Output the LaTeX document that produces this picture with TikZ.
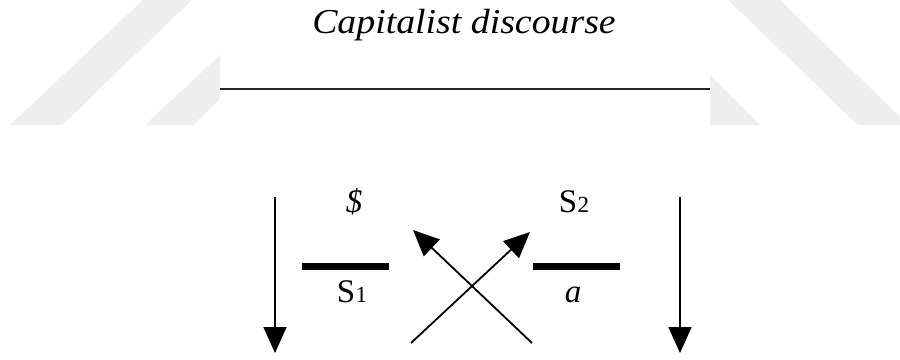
\documentclass[tikz,border=0pt]{standalone}
\usepackage{fontspec}
\setmainfont{Liberation Serif}
\usepackage{graphicx}
\usepackage{tikz}
\usetikzlibrary{arrows.meta,positioning}
\definecolor{markgray}{HTML}{EEEEEE}
\tikzset{
  term/.style={font=\fontsize{33}{37}\selectfont, inner sep=0pt, anchor=base},
  bar/.style={line width=7pt},
  flow/.style={line width=1.8pt, -{Triangle[length=26pt,width=23pt]}},
}
\newcommand{\idx}[1]{\kern0.5pt{\fontsize{23}{24}\selectfont #1}}
\newcommand{\wide}[1]{\scalebox{1.08}[1]{#1}}

\begin{document}
\begin{tikzpicture}[x=1pt,y=-1pt]
    \useasboundingbox (0,0) rectangle (900,359);

    % Faint strips behind the title
    \fill[markgray] (10,125) -- (62,125) -- (192,0) -- (143,0) -- cycle;
    \fill[markgray] (145,125) -- (193,125) -- (220,99) -- (220,55) -- cycle;
    \fill[markgray] (710,75) -- (760,125) -- (710,125) -- cycle;
    \fill[markgray] (728,0) -- (780,0) -- (900,117) -- (900,125) -- (858,125) -- cycle;

    % Title and rule
    \node[term, font=\fontsize{35}{40}\selectfont\itshape] (title) at (464,33) {\wide{Capitalist discourse}};
    \coordinate (ruleL) at (220,89);
    \coordinate (ruleR) at (710,89);
    \draw[line width=2.6pt, black!85] (ruleL) -- (ruleR);

    % The four places
    \node[term] (subj) at (354,212) {\textit{\$}};
    \node[term] (know) at (574,212) {S\idx{2}};
    \node[term] (mast) at (352,302) {S\idx{1}};
    \node[term] (obj) at (573,302) {\textit{a}};

    % Bars
    \coordinate (barLa) at (302,266);
    \coordinate (barLb) at (389,266);
    \coordinate (barRa) at (533,266);
    \coordinate (barRb) at (620,266);
    \draw[bar] (barLa) -- (barLb);
    \draw[bar] (barRa) -- (barRb);

    % Vertical arrows
    \coordinate (downLa) at (275,197);
    \coordinate (downLb) at (275,353);
    \coordinate (downRa) at (680,197);
    \coordinate (downRb) at (680,353);
    \draw[flow] (downLa) -- (downLb);
    \draw[flow] (downRa) -- (downRb);

    % Crossing arrows
    \coordinate (crossA) at (411,343);
    \coordinate (crossAtip) at (530,232);
    \coordinate (crossB) at (532,343);
    \coordinate (crossBtip) at (413,230);
    \draw[flow] (crossA) -- (crossAtip);
    \draw[flow] (crossB) -- (crossBtip);
\end{tikzpicture}
\end{document}
